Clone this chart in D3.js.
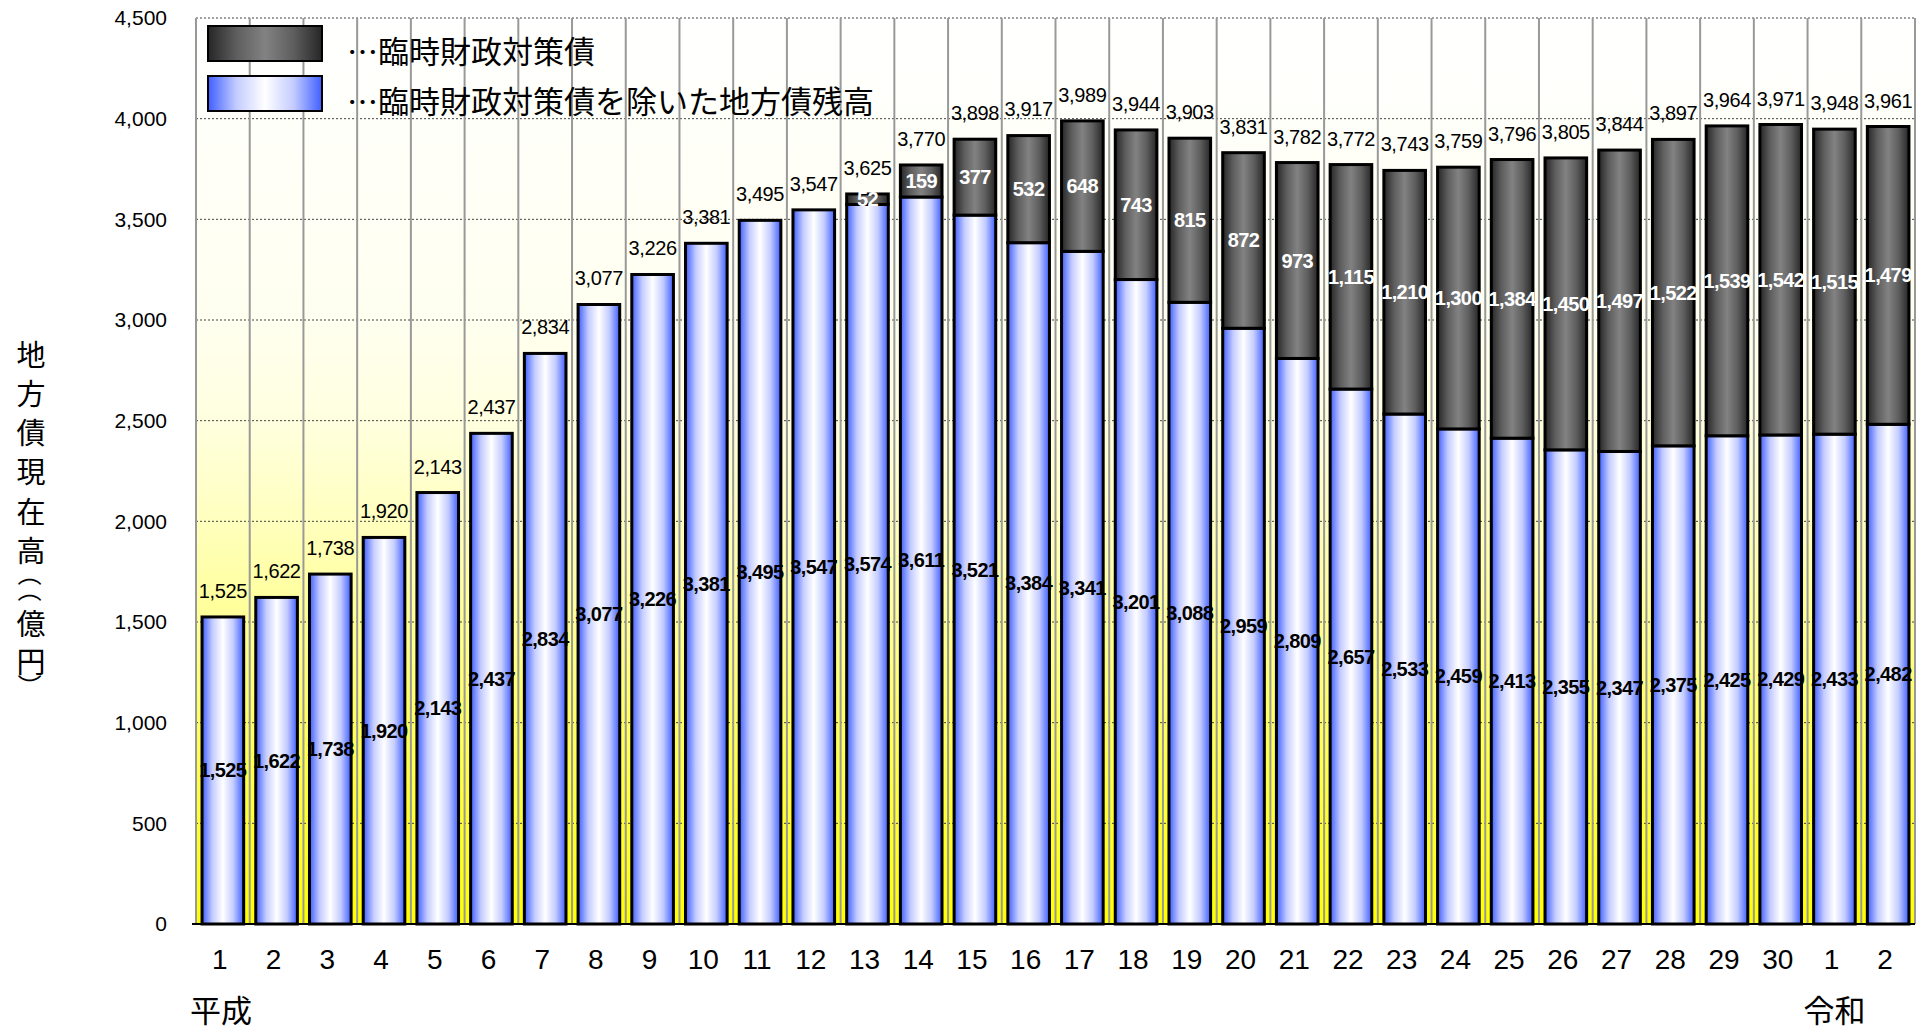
<!DOCTYPE html>
<html>

<head>
    <meta charset="utf-8">
    <title>地方債現在高</title>
    <style>
        body { margin: 0; background: #ffffff; }
        svg text { font-family: "Liberation Sans", "Noto Sans CJK JP", sans-serif; }
        .jp { font-family: "Noto Sans CJK JP", sans-serif; }
    </style>
    <script src="https://cdn.jsdelivr.net/npm/d3@7"></script>
</head>

<body>
    <div id="chart"></div>
    <script>
        // fiscal year labels: 平成1..30, 令和1, 2
        const years = ["1", "2", "3", "4", "5", "6", "7", "8", "9", "10", "11", "12", "13", "14", "15",
            "16", "17", "18", "19", "20", "21", "22", "23", "24", "25", "26", "27", "28", "29", "30", "1", "2"];
        // 臨時財政対策債を除いた地方債残高
        const baseDebt = [1525, 1622, 1738, 1920, 2143, 2437, 2834, 3077, 3226, 3381, 3495, 3547, 3574, 3611,
            3521, 3384, 3341, 3201, 3088, 2959, 2809, 2657, 2533, 2459, 2413, 2355, 2347, 2375, 2425, 2429, 2433, 2482];
        // 臨時財政対策債
        const rinzaiDebt = [0, 0, 0, 0, 0, 0, 0, 0, 0, 0, 0, 0, 52, 159, 377, 532, 648, 743, 815, 872, 973,
            1115, 1210, 1300, 1384, 1450, 1497, 1522, 1539, 1542, 1515, 1479];
        // totals printed above the bars
        const totals = [1525, 1622, 1738, 1920, 2143, 2437, 2834, 3077, 3226, 3381, 3495, 3547, 3625, 3770,
            3898, 3917, 3989, 3944, 3903, 3831, 3782, 3772, 3743, 3759, 3796, 3805, 3844, 3897, 3964, 3971, 3948, 3961];
        const yTicks = [0, 500, 1000, 1500, 2000, 2500, 3000, 3500, 4000, 4500];
        const legendLabels = ["…臨時財政対策債", "…臨時財政対策債を除いた地方債残高"];
        const yTitle = ["地", "方", "債", "現", "在", "高", "（", "（", "億", "円", "）"];

        const W = 1925, H = 1033;
        const plotL = 196, plotR = 1915, plotT = 18, plotB = 924;
        const fmt = d3.format(",");

        const svg = d3.select("#chart").append("svg")
            .attr("width", W).attr("height", H);

        const defs = svg.append("defs");
        const bg = defs.append("linearGradient").attr("id", "bg")
            .attr("x1", 0).attr("y1", 0).attr("x2", 0).attr("y2", 1);
        [[0, "#ffffff"], [0.11, "#fffffa"], [0.33, "#fffff0"], [0.44, "#ffffe0"], [0.55, "#ffffc0"],
        [0.66, "#ffff98"], [0.78, "#ffff60"], [0.89, "#ffff30"], [1, "#ffff00"]]
            .forEach(s => bg.append("stop").attr("offset", s[0]).attr("stop-color", s[1]));

        function barGrad(id, edge, mid, center) {
            const g = defs.append("linearGradient").attr("id", id)
                .attr("x1", 0).attr("y1", 0).attr("x2", 1).attr("y2", 0);
            [[0, edge], [0.25, mid], [0.5, center], [0.75, mid], [1, edge]]
                .forEach(s => g.append("stop").attr("offset", s[0]).attr("stop-color", s[1]));
        }
        barGrad("gBlue", "#3f5fff", "#c4ccff", "#ffffff");
        barGrad("gDark", "#262626", "#5e5e5e", "#828282");

        const x = d3.scaleBand()
            .domain(d3.range(years.length))
            .range([plotL, plotR])
            .paddingInner(0.225)
            .paddingOuter(0.1125);
        const y = d3.scaleLinear().domain([0, 4500]).range([plotB, plotT]);

        // plot background
        svg.append("rect")
            .attr("x", plotL).attr("y", plotT)
            .attr("width", plotR - plotL).attr("height", plotB - plotT)
            .attr("fill", "url(#bg)");

        // horizontal dotted grid
        svg.append("g").selectAll("line")
            .data(yTicks.filter(d => d > 0))
            .join("line")
            .attr("x1", plotL).attr("x2", plotR)
            .attr("y1", d => y(d)).attr("y2", d => y(d))
            .attr("stroke", "#444").attr("stroke-width", 1)
            .attr("stroke-dasharray", "2,2");

        // vertical category separators
        svg.append("g").selectAll("line")
            .data(d3.range(years.length + 1))
            .join("line")
            .attr("x1", k => plotL + k * x.step()).attr("x2", k => plotL + k * x.step())
            .attr("y1", plotT).attr("y2", plotB)
            .attr("stroke", "#999").attr("stroke-width", 2);

        // y axis labels
        const yAxis = svg.append("g")
            .attr("transform", `translate(${plotL},0)`)
            .call(d3.axisLeft(y).tickValues(yTicks).tickFormat(fmt).tickSize(0).tickPadding(29));
        yAxis.select(".domain").remove();
        yAxis.selectAll("text")
            .attr("font-size", 21).attr("fill", "#000")
            .attr("font-family", "Liberation Sans");

        // stacked bars
        const rows = years.map((yr, i) => ({ i, base: baseDebt[i], rinzai: rinzaiDebt[i] }));
        const series = d3.stack().keys(["base", "rinzai"])(rows);
        const fills = { base: "url(#gBlue)", rinzai: "url(#gDark)" };

        svg.append("g").selectAll("g")
            .data(series)
            .join("g")
            .attr("fill", s => fills[s.key])
            .selectAll("rect")
            .data(s => s.filter(d => d[1] > d[0]))
            .join("rect")
            .attr("x", d => x(d.data.i))
            .attr("width", x.bandwidth())
            .attr("y", d => y(d[1]))
            .attr("height", d => y(d[0]) - y(d[1]))
            .attr("stroke", "#000").attr("stroke-width", 3);

        // segment labels
        svg.append("g").selectAll("g")
            .data(series)
            .join("g")
            .attr("fill", s => s.key === "base" ? "#000" : "#fff")
            .selectAll("text")
            .data(s => s.filter(d => d[1] > d[0]))
            .join("text")
            .attr("x", d => x(d.data.i) + x.bandwidth() / 2)
            .attr("y", d => y((d[0] + d[1]) / 2))
            .attr("dy", "0.35em")
            .attr("text-anchor", "middle")
            .attr("font-size", 20).attr("font-weight", "bold")
            .attr("letter-spacing", -0.6)
            .text(d => fmt(d[1] - d[0]));

        // totals
        svg.append("g").selectAll("text")
            .data(totals)
            .join("text")
            .attr("x", (d, i) => x(i) + x.bandwidth() / 2)
            .attr("y", d => y(d) - 19)
            .attr("text-anchor", "middle")
            .attr("font-size", 20)
            .attr("letter-spacing", -0.4)
            .text(d => fmt(d));

        // x axis
        const xAxis = svg.append("g")
            .attr("transform", `translate(-3,${plotB})`)
            .call(d3.axisBottom(x).tickFormat(i => years[i]).tickSize(0).tickPadding(25));
        xAxis.select(".domain").remove();
        xAxis.selectAll("text")
            .attr("font-size", 28).attr("fill", "#000")
            .attr("font-family", "Liberation Sans");

        // baseline
        svg.append("line")
            .attr("x1", plotL - 4).attr("x2", plotR)
            .attr("y1", plotB).attr("y2", plotB)
            .attr("stroke", "#000").attr("stroke-width", 2);

        // era labels
        svg.append("text").attr("class", "jp")
            .attr("x", x(0) - 12).attr("y", 1022)
            .attr("font-size", 31).text("平成");
        svg.append("text").attr("class", "jp")
            .attr("x", x(30) + x.bandwidth() / 2).attr("y", 1022)
            .attr("text-anchor", "middle")
            .attr("font-size", 31).text("令和");

        // y title, stacked vertically; brackets turned for vertical writing
        const titleY = [353, 392, 431, 470, 510, 549, 574, 590, 622, 660, 686];
        const isParen = c => c === "（" || c === "）";
        svg.append("g").selectAll("text")
            .data(yTitle)
            .join("text").attr("class", "jp")
            .attr("x", 31).attr("y", (d, i) => titleY[i])
            .attr("dominant-baseline", "central")
            .attr("text-anchor", "middle")
            .attr("font-size", d => isParen(d) ? 24 : 29)
            .attr("transform", (d, i) => isParen(d) ? `rotate(90,31,${titleY[i]})` : null)
            .text(d => d);

        // legend
        const legend = svg.append("g");
        const legendFills = ["url(#gDark)", "url(#gBlue)"];
        legend.selectAll("rect")
            .data(legendLabels)
            .join("rect")
            .attr("x", 208).attr("y", (d, i) => 26 + i * 50)
            .attr("width", 114).attr("height", 35)
            .attr("fill", (d, i) => legendFills[i])
            .attr("stroke", "#000").attr("stroke-width", 2);
        legend.selectAll("text")
            .data(legendLabels)
            .join("text").attr("class", "jp")
            .attr("x", 347).attr("y", (d, i) => 52 + i * 50)
            .attr("dy", "0.35em")
            .attr("font-size", 31)
            .text(d => d);
    </script>
</body>

</html>
